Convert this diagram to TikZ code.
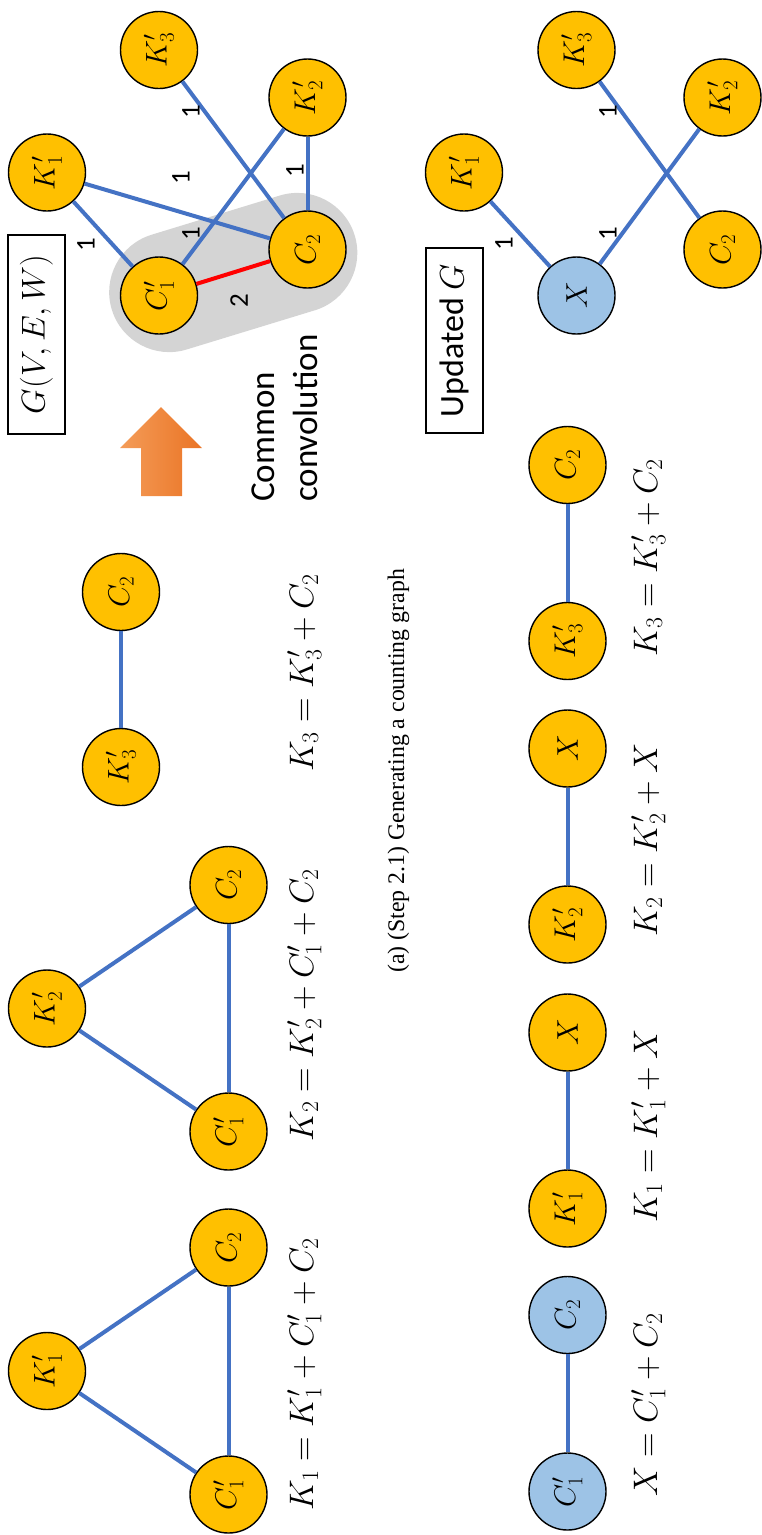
\RequirePackage{fix-cm}
\documentclass[tikz,border=0pt]{standalone}
\usepackage{fontspec}
\newfontfamily\calibri{Carlito}
\newfontfamily\timesf{Liberation Serif}
\definecolor{nodeyellow}{HTML}{FFC000}
\definecolor{nodeblue}{HTML}{9DC3E6}
\definecolor{edgeblue}{HTML}{4472C4}
\definecolor{capgray}{HTML}{D4D4D4}
\definecolor{arrowlight}{HTML}{F49C58}
\definecolor{arrowdark}{HTML}{EA7425}
\begin{document}
\begin{tikzpicture}[x=1pt,y=-1pt,
  vnode/.style={circle,draw=black,line width=1.4pt,minimum size=77pt,inner sep=0pt,rotate=90,
    font=\fontsize{30}{36}\selectfont},
  ynode/.style={vnode,fill=nodeyellow},
  bnode/.style={vnode,fill=nodeblue},
  link/.style={line width=4pt,edgeblue},
  redlink/.style={line width=4pt,red},
  formula/.style={rotate=90,anchor=base,inner sep=0pt,font=\fontsize{34}{40}\selectfont},
  wlabel/.style={rotate=90,inner sep=0pt,font=\calibri\fontsize{27}{30}\selectfont},
  titlebox/.style={draw=black,line width=1.2pt,rotate=90,inner sep=0pt,minimum height=57pt},
]
\useasboundingbox (0,0) rectangle (761,1535);

% ---------- top row: K1 ----------
\node[ynode] (a1k) at (47,1371) {$K_1'$};
\node[ynode] (a1c2) at (228.5,1247.5) {$C_2$};
\node[ynode] (a1c1) at (228.5,1494.5) {$C_1'$};
\draw[link] (a1k) -- (a1c2);
\draw[link] (a1k) -- (a1c1);
\draw[link] (a1c1) -- (a1c2);
\node[formula] (f1) at (313,1374) {$K_1 = K_1' + C_1' + C_2$};

% ---------- top row: K2 ----------
\node[ynode] (a2k) at (47,1008.5) {$K_2'$};
\node[ynode] (a2c2) at (228.5,885) {$C_2$};
\node[ynode] (a2c1) at (228.5,1131.5) {$C_1'$};
\draw[link] (a2k) -- (a2c2);
\draw[link] (a2k) -- (a2c1);
\draw[link] (a2c1) -- (a2c2);
\node[formula] (f2) at (313,1005) {$K_2 = K_2' + C_1' + C_2$};

% ---------- top row: K3 ----------
\node[ynode] (a3k) at (121,767) {$K_3'$};
\node[ynode] (a3c2) at (121,592) {$C_2$};
\draw[link] (a3k) -- (a3c2);
\node[formula] (f3) at (313,673) {$K_3 = K_3' + C_2$};

% ---------- arrow ----------
\shade[left color=arrowlight,right color=arrowdark]
  (141,496) -- (141,448) -- (120,448) -- (161,407) -- (202,448) -- (182,448) -- (182,496) -- cycle;
\node[rotate=90,anchor=north west,inner sep=0pt,align=left,font=\calibri\fontsize{35}{43}\selectfont]
  (cc) at (252,502) {Common\\convolution};

% ---------- G(V,E,W) ----------
\node[titlebox,minimum width=199pt,font=\fontsize{33}{38}\selectfont] (gbox) at (36.5,334.5) {$G(V,E,W)$};
\node[rectangle,rounded corners=60pt,minimum width=254pt,minimum height=120pt,rotate=17,fill=capgray]
  (cap) at (233.25,272.5) {};
\node[ynode] (gk3) at (159,50) {$K_3'$};
\node[ynode] (gk2) at (307.5,97.5) {$K_2'$};
\node[ynode] (gk1) at (47,172.5) {$K_1'$};
\node[ynode] (gc2) at (307.5,249.5) {$C_2$};
\node[ynode] (gc1) at (159,295.5) {$C_1'$};
\draw[link] (gk1) -- (gc1);
\draw[link] (gk1) -- (gc2);
\draw[link] (gk3) -- (gc2);
\draw[link] (gk2) -- (gc1);
\draw[link] (gk2) -- (gc2);
\draw[redlink] (gc1) -- (gc2);
\node[wlabel] (w1) at (86,245) {1};
\node[wlabel] (w2) at (181,178) {1};
\node[wlabel] (w3) at (191,112) {1};
\node[wlabel] (w4) at (191,234) {1};
\node[wlabel] (w5) at (295,171) {1};
\node[wlabel] (w6) at (239,301) {2};

% ---------- caption ----------
\node[rotate=90,anchor=base,inner sep=0pt,font=\timesf\fontsize{23.8}{28}\selectfont]
  (cap2) at (404,771) {(a) (Step 2.1) Generating a counting graph};

% ---------- Updated G ----------
\node[titlebox,minimum width=185pt,font=\calibri\fontsize{34}{40}\selectfont] (ubox) at (454.5,340.5) {Updated $G$};
\node[ynode] (uk3) at (576.5,50) {$K_3'$};
\node[ynode] (uk2) at (722.5,97.5) {$K_2'$};
\node[ynode] (uk1) at (464,172.5) {$K_1'$};
\node[ynode] (uc2) at (722.5,249.5) {$C_2$};
\node[bnode] (ux) at (576.5,295.5) {$X$};
\draw[link] (uk1) -- (ux);
\draw[link] (uk3) -- (uc2);
\draw[link] (ux) -- (uk2);
\node[wlabel] (u1) at (504,244) {1};
\node[wlabel] (u2) at (608,112) {1};
\node[wlabel] (u3) at (608,234) {1};

% ---------- bottom row ----------
\node[bnode] (bc1) at (567.5,1491.5) {$C_1'$};
\node[bnode] (bc2) at (567.5,1315) {$C_2$};
\draw[link] (bc1) -- (bc2);
\node[formula] (g0) at (657,1405) {$X = C_1' + C_2$};

\node[ynode] (bk1) at (567.5,1208.5) {$K_1'$};
\node[ynode] (bx1) at (567.5,1032.5) {$X$};
\draw[link] (bk1) -- (bx1);
\node[formula] (g1) at (657,1126) {$K_1 = K_1' + X$};

\node[ynode] (bk2) at (567.5,924.5) {$K_2'$};
\node[ynode] (bx2) at (567.5,748.5) {$X$};
\draw[link] (bk2) -- (bx2);
\node[formula] (g2) at (657,840) {$K_2 = K_2' + X$};

\node[ynode] (bk3) at (567.5,641) {$K_3'$};
\node[ynode] (bc3) at (567.5,465) {$C_2$};
\draw[link] (bk3) -- (bc3);
\node[formula] (g3) at (657,558) {$K_3 = K_3' + C_2$};
\end{tikzpicture}
\end{document}
